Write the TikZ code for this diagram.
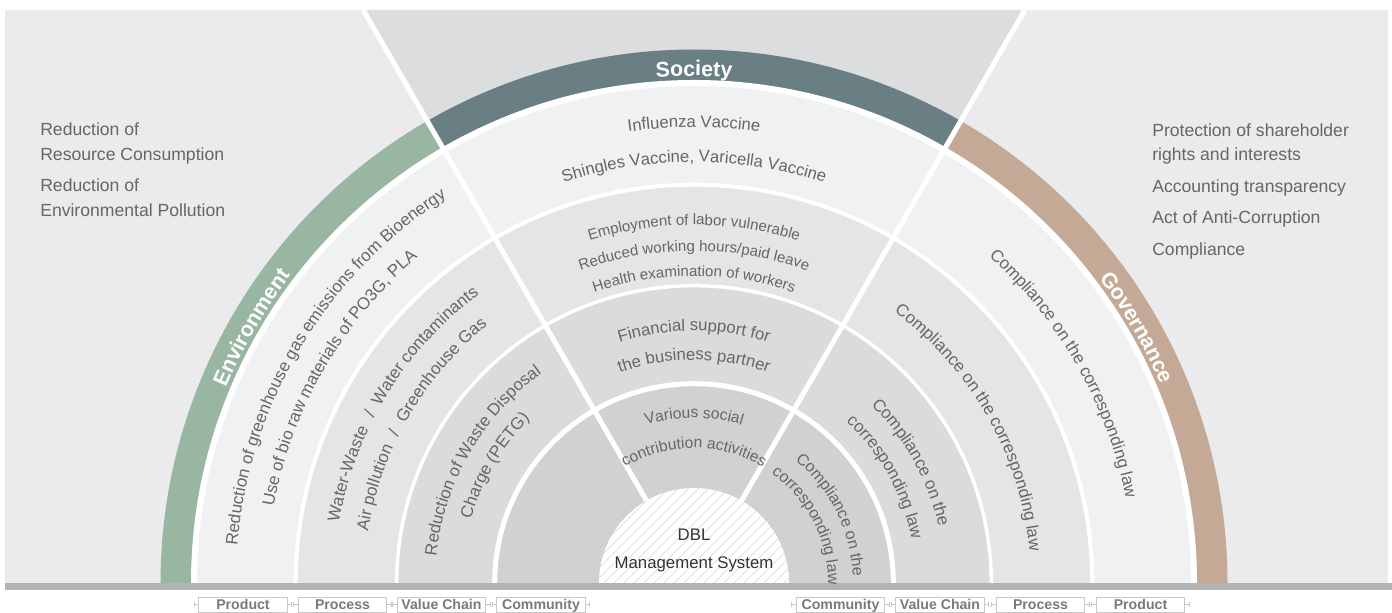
\documentclass[tikz,border=0pt]{standalone}
\usepackage{fontspec}
\setmainfont{Liberation Sans}
\usetikzlibrary{decorations.text}
\definecolor{panel}{HTML}{EBEBED}
\definecolor{topg}{HTML}{DCDDDF}
\definecolor{envc}{HTML}{98B6A2}
\definecolor{socc}{HTML}{6A7F84}
\definecolor{govc}{HTML}{C4AA96}
\definecolor{ra}{HTML}{F0F1F3}
\definecolor{rb}{HTML}{E4E5E7}
\definecolor{rc}{HTML}{DADBDD}
\definecolor{rd}{HTML}{D0D1D3}
\definecolor{barc}{HTML}{B2B3B5}
\definecolor{txt}{HTML}{666666}
\definecolor{darktxt}{HTML}{333333}
\definecolor{lblc}{HTML}{7A7A7A}
\definecolor{boxc}{HTML}{C8C8C8}
\definecolor{hatchc}{HTML}{D4D4D4}
\newcommand\ArcTxt[4]{\path[decorate,decoration={text along path,text align=center,text={|#3|#4}}] (C) ++(#2+89:#1) arc[start angle=#2+89,end angle=#2-89,radius=#1];}
\newcommand\RingF{\fontsize{12.7}{15}\selectfont\color{txt}}
\newcommand\SocA{\fontsize{12.5}{15}\selectfont\color{txt}}
\newcommand\SocB{\fontsize{11.3}{13}\selectfont\color{txt}}
\newcommand\SocC{\fontsize{12.5}{15}\selectfont\color{txt}}
\newcommand\SocD{\fontsize{11.7}{14}\selectfont\color{txt}}
\newcommand\InR{\fontsize{12}{14}\selectfont\color{txt}}
\newcommand\BandF{\fontsize{16}{19}\selectfont\bfseries\color{white}}
\tikzset{
  divider/.style={white,line width=3.75pt},
  side/.style={anchor=base west,inner sep=0pt,font=\fontsize{13.2}{15}\selectfont,text=txt},
  dbltext/.style={anchor=base,inner sep=0pt,font=\fontsize{12.6}{15}\selectfont,text=darktxt},
  lbl/.style={draw=boxc,line width=0.6pt,minimum width=66.5pt,minimum height=11.25pt,inner sep=0pt,
    text height=7.6pt,text depth=0.2pt,font=\fontsize{10.6}{12}\selectfont\bfseries,text=lblc},
  tickmark/.style={draw=boxc,line width=0.6pt}
}
\begin{document}
\begin{tikzpicture}[x=0.75pt,y=0.75pt]
\useasboundingbox (0,0) rectangle (1392,613);
\fill[white] (0,0) rectangle (1392,613);
\fill[panel] (5,30) rectangle (1388,603);
\coordinate (C) at (694,30);
\fill[topg] (C) -- (363.2,603) -- (1024.8,603) -- cycle;
% outer bands
\fill[envc] (C) -- ++(180:533.5) arc[start angle=180,end angle=120,radius=533.5] -- cycle;
\fill[socc] (C) -- ++(120:533.5) arc[start angle=120,end angle=60,radius=533.5] -- cycle;
\fill[govc] (C) -- ++(60:533.5) arc[start angle=60,end angle=0,radius=533.5] -- cycle;
% rings
\foreach \r/\c in {500/ra,398.3/rb,297.3/rc,199.3/rd}
  \fill[\c] (C) -- ++(0:\r) arc[start angle=0,end angle=180,radius=\r] -- cycle;
\foreach \r/\w in {500/4.5pt,398.3/3pt,297.3/2.6pt,199.3/3.75pt}
  \draw[white,line width=\w] (C) ++(0:\r) arc[start angle=0,end angle=180,radius=\r];
% dividers
\draw[divider] (C) -- (363.2,603);
\draw[divider] (C) -- (1024.8,603);
% DBL circle
\begin{scope}
  \clip (C) -- ++(0:95) arc[start angle=0,end angle=180,radius=95] -- cycle;
  \fill[white] (C) circle[radius=96];
  \foreach \k in {-220,-210,...,220}
    \draw[hatchc,line width=0.5pt] (694+\k-110,30-110) -- ++(220,220);
\end{scope}
% bottom bar
\fill[barc] (5,23) rectangle (1392,30);

% band labels
\ArcTxt{507}{150}{\BandF}{Environment}
\ArcTxt{507}{90}{\BandF}{Society}
\ArcTxt{507}{30}{\BandF}{Governance}

% Environment sector
\ArcTxt{458}{149}{\RingF}{Reduction of greenhouse gas emissions from Bioenergy}
\ArcTxt{427}{150}{\RingF}{Use of bio raw materials of PO3G, PLA}
\ArcTxt{360}{162.5}{\RingF}{Water-Waste}
\ArcTxt{360}{152.5}{\RingF}{/}
\ArcTxt{360}{138.6}{\RingF}{Water contaminants}
\ArcTxt{330}{163.3}{\RingF}{Air pollution}
\ArcTxt{330}{153.4}{\RingF}{/}
\ArcTxt{330}{139.9}{\RingF}{Greenhouse Gas}
\ArcTxt{259}{150}{\RingF}{Reduction of Waste Disposal}
\ArcTxt{232}{149.5}{\RingF}{Charge (PETG)}

% Society sector
\ArcTxt{456}{90}{\SocA}{Influenza Vaccine}
\ArcTxt{421}{90}{\SocA}{Shingles Vaccine, Varicella Vaccine}
\ArcTxt{358}{90}{\SocB}{Employment of labor vulnerable}
\ArcTxt{332}{90}{\SocB}{Reduced working hours/paid leave}
\ArcTxt{307}{90}{\SocB}{Health examination of workers}
\ArcTxt{252}{90}{\SocC}{Financial support for}
\ArcTxt{223}{90}{\SocC}{the business partner}
\ArcTxt{165}{90}{\SocD}{Various social}
\ArcTxt{135}{90}{\SocD}{contribution activities}

% Governance sector
\ArcTxt{440}{29.5}{\RingF}{Compliance on the corresponding law}
\ArcTxt{337}{29.5}{\RingF}{Compliance on the corresponding law}
\ArcTxt{251}{29}{\RingF}{Compliance on the}
\ArcTxt{222}{29}{\RingF}{corresponding law}
\ArcTxt{159}{26.5}{\InR}{Compliance on the}
\ArcTxt{134}{27}{\InR}{corresponding law}

% side texts
\node[side] (l1) at (40,477) {Reduction of};
\node[side] (l2) at (40,452) {Resource Consumption};
\node[side] (l3) at (40,421) {Reduction of};
\node[side] (l4) at (40,396) {Environmental Pollution};
\node[side] (r1) at (1152,476) {Protection of shareholder};
\node[side] (r2) at (1152,452) {rights and interests};
\node[side] (r3) at (1152,420) {Accounting transparency};
\node[side] (r4) at (1152,389) {Act of Anti-Corruption};
\node[side] (r5) at (1152,357) {Compliance};

% DBL text
\node[dbltext] (dbl1) at (694,72) {DBL};
\node[dbltext] (dbl2) at (694,44) {Management System};

% bottom labels
\node[lbl] (bl1) at (243,8.5) {Product};
\node[lbl] (bl2) at (342.5,8.5) {Process};
\node[lbl] (bl3) at (441.5,8.5) {Value Chain};
\node[lbl] (bl4) at (541,8.5) {Community};
\node[lbl] (br4) at (840.5,8.5) {Community};
\node[lbl] (br3) at (940,8.5) {Value Chain};
\node[lbl] (br2) at (1040.5,8.5) {Process};
\node[lbl] (br1) at (1140.5,8.5) {Product};
\foreach \b in {bl1,bl2,bl3,bl4,br4,br3,br2,br1}{
  \draw[tickmark] (\b.west) -- ++(-4,0) ++(0,-2.5) -- ++(0,5);
  \draw[tickmark] (\b.east) -- ++(4,0) ++(0,-2.5) -- ++(0,5);
}
\end{tikzpicture}
\end{document}
